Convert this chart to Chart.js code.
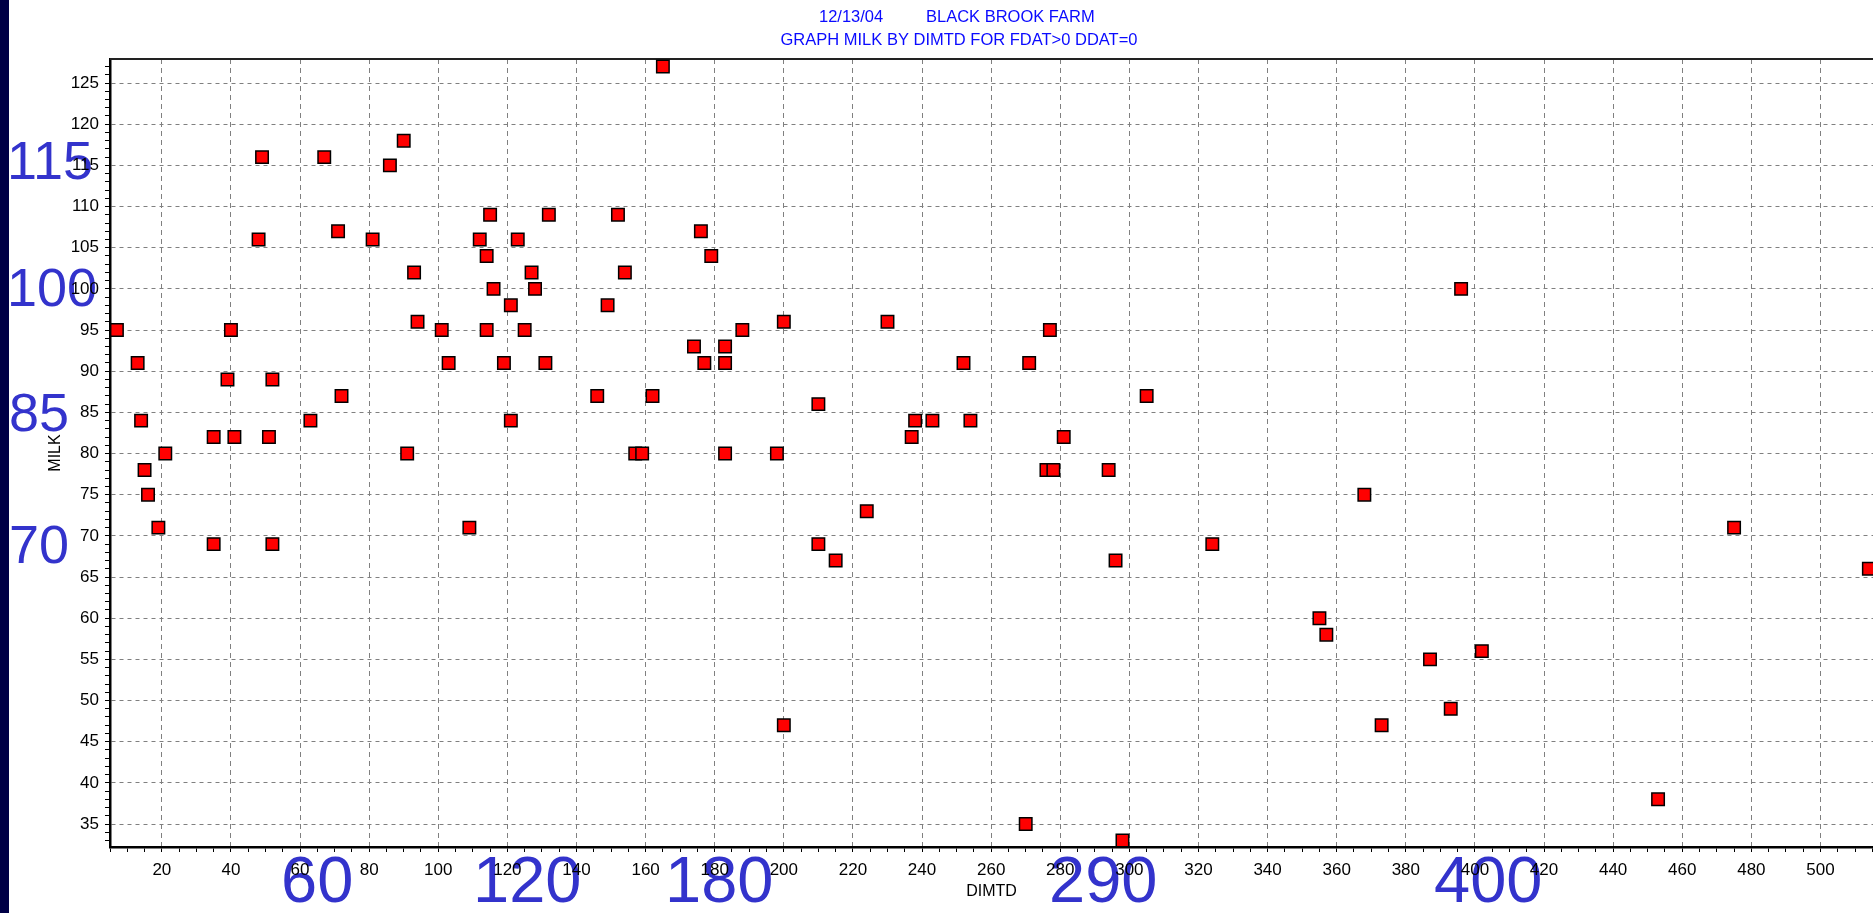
<!DOCTYPE html>
<html>
<head>
<meta charset="utf-8">
<title>BLACK BROOK FARM - MILK by DIMTD</title>
<script src="https://cdn.jsdelivr.net/npm/chart.js@4.4.1/dist/chart.umd.min.js"></script>
<style>
  html, body { margin: 0; padding: 0; background: #fff; overflow: hidden; }
  canvas { display: block; }
</style>
</head>
<body>
<canvas id="milkChart" width="1873" height="913"></canvas>
<script>
// Días en leche (DIMTD) y leche (MILK) de cada vaca
const dimtd = [
  7, 13, 14, 15, 16, 19, 21, 35, 35, 39,
  40, 41, 48, 49, 51, 52, 52, 63, 67, 71,
  72, 81, 86, 90, 91, 93, 94, 101, 103, 109,
  112, 114, 114, 115, 116, 119, 121, 121, 123, 125,
  127, 128, 131, 132, 146, 149, 152, 154, 157, 159,
  162, 165, 174, 176, 177, 179, 183, 183, 183, 188,
  198, 200, 200, 210, 210, 215, 224, 230, 237, 238,
  243, 252, 254, 270, 271, 276, 277, 278, 281, 294,
  296, 298, 305, 324, 355, 357, 368, 373, 387, 393,
  396, 402, 453, 475, 514
];
const milk = [
  95, 91, 84, 78, 75, 71, 80, 82, 69, 89,
  95, 82, 106, 116, 82, 89, 69, 84, 116, 107,
  87, 106, 115, 118, 80, 102, 96, 95, 91, 71,
  106, 104, 95, 109, 100, 91, 98, 84, 106, 95,
  102, 100, 91, 109, 87, 98, 109, 102, 80, 80,
  87, 127, 93, 107, 91, 104, 93, 91, 80, 95,
  80, 96, 47, 86, 69, 67, 73, 96, 82, 84,
  84, 91, 84, 35, 91, 78, 95, 78, 82, 78,
  67, 33, 87, 69, 60, 58, 75, 47, 55, 49,
  100, 56, 38, 71, 66
];

// Textos
const titleDate = '12/13/04';
const titleFarm = 'BLACK BROOK FARM';
const titleQuery = 'GRAPH MILK BY DIMTD FOR FDAT>0 DDAT=0';
const xTitle = 'DIMTD';
const yTitle = 'MILK';
const notesLeft = ['115', '100', '85', '70'];
const notesBottom = ['60', '120', '180', '290', '400'];

// Rango de los ejes
const xRange = [5, 515.2];
const yRange = [32.21, 127.92];

const points = dimtd.map((d, i) => ({ x: d, y: milk[i] }));

const tickFont = { family: 'Arial, "Liberation Sans", sans-serif', size: 17 };
const titleFont = { family: 'Arial, "Liberation Sans", sans-serif', size: 16 };

// Fondo, franja izquierda, títulos y números grandes en azul
const farmDecor = {
  id: 'farmDecor',
  beforeDraw(chart) {
    const ctx = chart.ctx;
    ctx.save();
    ctx.fillStyle = '#fff';
    ctx.fillRect(0, 0, chart.width, chart.height);
    ctx.fillStyle = '#000046';
    ctx.fillRect(0, 0, 9, chart.height);

    ctx.fillStyle = '#0a0aff';
    ctx.font = '16.5px Arial, "Liberation Sans", sans-serif';
    ctx.textAlign = 'left';
    ctx.textBaseline = 'alphabetic';
    ctx.fillText(titleDate, 819, 22);
    ctx.fillText(titleFarm, 926, 22);
    ctx.textAlign = 'center';
    ctx.fillText(titleQuery, 959, 45);

    // notas grandes
    ctx.fillStyle = '#3333cc';
    ctx.textAlign = 'left';
    ctx.font = '54px Arial, "Liberation Sans", sans-serif';
    const leftX = [7, 7, 9, 9];
    const leftY = [179, 306, 431, 563];
    notesLeft.forEach((t, i) => ctx.fillText(t, leftX[i], leftY[i]));
    ctx.font = '65px Arial, "Liberation Sans", sans-serif';
    const bottomX = [281, 473, 665, 1049, 1434];
    notesBottom.forEach((t, i) => ctx.fillText(t, bottomX[i], 902));
    ctx.restore();
  },
  beforeDatasetsDraw(chart) {
    const { ctx, chartArea } = chart;
    ctx.save();
    ctx.strokeStyle = '#222';
    ctx.lineWidth = 2;
    ctx.beginPath();
    ctx.moveTo(chartArea.left, chartArea.top);
    ctx.lineTo(chartArea.right, chartArea.top);
    ctx.stroke();
    ctx.restore();
  }
};

const ctx = document.getElementById('milkChart').getContext('2d');
const milkChart = new Chart(ctx, {
  type: 'scatter',
  data: {
    datasets: [{
      label: yTitle,
      data: points,
      pointStyle: 'rect',
      pointRadius: 8.8,
      pointHoverRadius: 8.8,
      pointBackgroundColor: '#ff0000',
      pointBorderColor: '#000',
      pointBorderWidth: 1.5,
    }],
  },
  options: {
    responsive: false,
    animation: false,
    devicePixelRatio: 1,
    events: [],
    layout: { autoPadding: false, padding: { top: 59, left: 0, right: 0, bottom: 0 } },
    plugins: {
      legend: { display: false },
      tooltip: { enabled: false },
      title: { display: false },
    },
    scales: {
      x: {
        type: 'linear',
        min: xRange[0],
        max: xRange[1],
        ticks: {
          stepSize: 5,
          autoSkip: false,
          includeBounds: false,
          maxRotation: 0,
          minRotation: 0,
          padding: 8,
          color: '#000',
          font: tickFont,
          callback: (v) => (v % 20 === 0 ? v : ''),
        },
        grid: {
          color: (c) => (c.tick && c.tick.value % 20 === 0 ? '#808080' : 'rgba(0,0,0,0)'),
          tickColor: '#000',
          tickLength: 5,
          lineWidth: 1,
        },
        border: { color: '#000', width: 2.5, dash: [5, 4] },
        title: { display: true, text: xTitle, color: '#000', font: titleFont, padding: { top: 0, bottom: 12 } },
        afterFit: (s) => {
          s.height = 66;
          // el eje llega hasta el borde derecho, como en la captura
          s.paddingLeft = 0;
          s.paddingRight = 0;
        },
      },
      y: {
        type: 'linear',
        min: yRange[0],
        max: yRange[1],
        ticks: {
          stepSize: 1,
          autoSkip: false,
          includeBounds: false,
          padding: 6,
          color: '#000',
          font: tickFont,
          callback: (v) => (v % 5 === 0 ? v : ''),
        },
        grid: {
          color: (c) => (c.tick && c.tick.value % 5 === 0 ? '#808080' : 'rgba(0,0,0,0)'),
          tickColor: '#000',
          tickLength: 5,
          lineWidth: 1,
        },
        border: { color: '#000', width: 2.5, dash: [4, 4] },
        title: { display: true, text: yTitle, color: '#000', font: titleFont, padding: { top: 46, bottom: 0 } },
        afterFit: (s) => { s.width = 110; },
      },
    },
  },
  plugins: [farmDecor],
});
</script>
</body>
</html>
